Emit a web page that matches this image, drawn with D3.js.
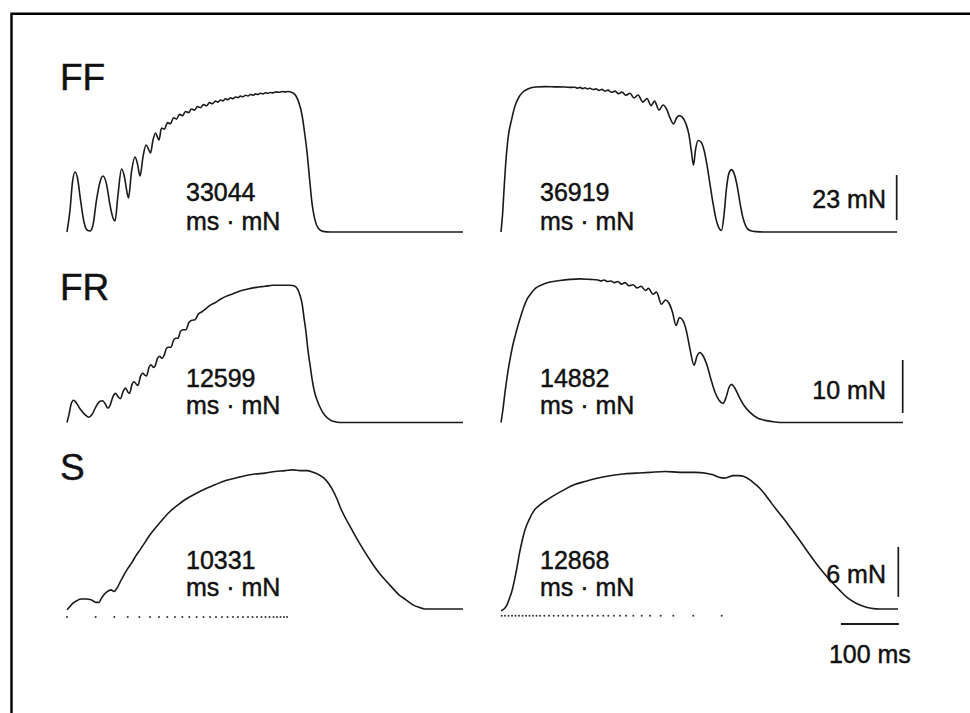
<!DOCTYPE html>
<html>
<head>
<meta charset="utf-8">
<script src="https://cdn.jsdelivr.net/npm/d3@7"></script>
<style>
  body { margin: 0; background: #fff; }
  svg { display: block; font-family: "Liberation Sans", Arial, Helvetica, sans-serif; }
  text { fill: #111; stroke: #111; stroke-width: 0.45; }
</style>
</head>
<body>
<svg width="970" height="713"></svg>
<script>
// force traces: [time ms, force mN]
// "increasing" = rising stimulus rate (left column), "decreasing" = falling rate (right column)
const ffIncreasing = [
  [0, 0], [5.2, 11.2], [9.5, 25.6], [13.8, 30.7], [18.1, 27.6], [23.3, 16.4], [29.3, 5.1], [34.5, 1.0],
  [39.7, 0.5], [44.8, 3.6], [50.9, 16.4], [56.9, 25.6], [62.1, 28.6], [68.1, 24.5], [74.1, 13.8],
  [79.3, 7.2], [82.8, 5.6], [87.9, 18.9], [94.0, 32.2], [99.1, 28.1], [103.4, 20.4], [106.0, 17.4],
  [111.2, 30.7], [117.2, 38.3], [121.6, 34.7], [125.9, 28.6], [131.0, 38.3], [136.2, 44.5],
  [140.5, 42.4], [144.0, 40.4], [148.3, 47.0], [152.6, 50.6], [156.0, 48.5], [158.6, 47.0],
  [162.9, 53.1], [168.1, 52.6], [173.3, 55.9], [178.4, 55.3], [183.6, 58.4], [188.8, 57.7],
  [194.0, 60.1], [199.1, 59.5], [204.3, 61.6], [209.5, 61.0], [214.7, 62.9], [219.8, 62.3],
  [225.0, 64.1], [230.2, 63.5], [235.3, 65.1], [240.5, 64.5], [245.7, 66.1], [250.9, 65.6],
  [256.0, 66.9], [260.3, 66.4], [264.7, 67.5], [269.0, 67.0], [273.3, 68.1], [277.6, 67.6],
  [281.9, 68.6], [286.2, 68.1], [290.5, 69.0], [294.8, 68.7], [299.1, 69.5], [303.4, 69.1],
  [307.8, 69.9], [312.1, 69.5], [316.4, 70.3], [320.7, 69.9], [325.0, 70.6], [329.3, 70.3],
  [333.6, 70.9], [337.9, 70.6], [342.2, 71.2], [346.6, 70.9], [350.9, 71.3], [355.2, 71.1],
  [360.3, 71.6], [365.5, 71.4], [370.7, 71.8], [375.9, 71.6], [381.0, 71.8], [387.9, 71.3],
  [394.8, 69.5], [400.0, 65.9], [405.2, 59.8], [409.5, 51.1], [413.8, 40.9], [418.1, 27.6],
  [422.4, 14.8], [427.6, 6.1], [433.6, 1.8], [441.4, 0.3], [453.4, 0], [682.8, 0]
];
const ffDecreasing = [
  [0, 0], [2.6, 8.7], [5.2, 21.5], [8.6, 36.8], [12.9, 49.6], [18.1, 57.2], [24.1, 64.4], [31.0, 69.0],
  [38.8, 71.8], [48.3, 73.4], [60.3, 74.1], [75.9, 74.3], [93.1, 74.2], [110.3, 74.1], [122.4, 73.9],
  [127.6, 74.0], [131.9, 73.5], [136.2, 73.9], [140.5, 73.3], [144.8, 73.7], [149.1, 73.1],
  [153.4, 73.5], [158.6, 72.8], [163.8, 73.2], [169.0, 72.4], [174.1, 72.9], [179.3, 72.0],
  [184.5, 72.5], [190.5, 71.4], [196.6, 72.0], [202.6, 70.7], [208.6, 71.5], [215.5, 69.9],
  [222.4, 70.9], [229.3, 68.5], [236.2, 70.0], [244.8, 66.4], [251.7, 68.2], [258.6, 64.6],
  [264.7, 66.9], [272.4, 62.3], [279.3, 64.9], [285.3, 62.9], [291.4, 58.3], [297.4, 55.2],
  [302.6, 58.3], [306.9, 59.5], [312.1, 58.8], [319.0, 55.2], [324.1, 49.6], [328.4, 40.9],
  [331.9, 34.2], [335.3, 41.9], [339.7, 46.8], [344.8, 46.0], [350.0, 41.9], [355.2, 34.2],
  [360.3, 24.5], [365.5, 14.8], [370.7, 6.6], [375.9, 2.0], [380.2, 0.8], [384.5, 8.7],
  [388.8, 22.5], [393.1, 30.1], [397.4, 31.9], [401.7, 30.1], [406.9, 24.0], [412.1, 14.8],
  [417.2, 7.2], [422.4, 2.8], [429.3, 0.8], [439.7, 0.2], [455.2, 0], [682.8, 0]
];
const frIncreasing = [
  [0, 0], [3.4, 1.5], [6.9, 3.4], [11.2, 4.2], [15.5, 3.8], [22.4, 2.6], [31.0, 1.5], [37.9, 1.0],
  [43.1, 1.5], [50.0, 3.0], [56.9, 4.0], [61.2, 4.1], [65.5, 3.6], [70.7, 2.7], [74.1, 3.2],
  [79.3, 4.9], [83.6, 5.5], [87.9, 4.9], [92.2, 4.5], [96.6, 5.8], [100.9, 6.5], [105.2, 5.7],
  [107.8, 5.5], [112.1, 7.2], [115.5, 7.7], [119.8, 7.2], [122.4, 7.0], [126.7, 8.7], [130.2, 9.3],
  [134.5, 8.9], [137.1, 8.8], [141.4, 10.4], [144.8, 10.9], [149.1, 10.4], [151.7, 10.6],
  [156.0, 12.1], [159.5, 12.5], [163.8, 12.1], [167.2, 12.6], [171.6, 14.0], [175.0, 14.2],
  [179.3, 14.2], [183.6, 15.5], [187.1, 15.9], [191.4, 15.9], [195.7, 17.2], [200.0, 17.5],
  [205.2, 17.5], [210.3, 18.9], [215.5, 19.3], [220.7, 19.4], [226.7, 20.5], [232.8, 20.9],
  [239.7, 21.5], [246.6, 22.1], [255.2, 22.6], [263.8, 23.2], [274.1, 23.8], [284.5, 24.2],
  [298.3, 24.8], [312.1, 25.2], [326.7, 25.5], [341.4, 25.7], [355.2, 25.9], [370.7, 25.9],
  [384.5, 25.9], [391.4, 25.8], [397.4, 25.2], [401.7, 24.0], [405.2, 22.5], [408.6, 19.8],
  [412.1, 17.0], [415.5, 13.6], [419.0, 10.9], [422.4, 8.3], [426.7, 5.8], [431.9, 4.0],
  [437.9, 2.5], [444.8, 1.3], [453.4, 0.5], [463.8, 0.1], [475.9, 0], [682.8, 0]
];
const frDecreasing = [
  [0, 0], [3.4, 2.5], [6.9, 5.7], [11.2, 9.1], [15.5, 11.9], [19.8, 14.3], [24.1, 16.2], [29.3, 18.3],
  [34.5, 20.2], [39.7, 21.9], [45.7, 23.4], [52.6, 24.5], [60.3, 25.4], [70.7, 26.0], [84.5, 26.5],
  [101.7, 26.8], [119.0, 27.0], [136.2, 27.1], [153.4, 27.0], [167.2, 26.9], [172.4, 26.7],
  [177.6, 26.9], [183.6, 26.6], [189.7, 26.7], [195.7, 26.4], [201.7, 26.6], [207.8, 26.1],
  [213.8, 26.4], [220.7, 25.8], [227.6, 26.0], [234.5, 25.4], [241.4, 25.7], [249.1, 24.9],
  [254.3, 25.3], [262.1, 24.2], [268.1, 24.6], [276.7, 22.3], [283.6, 23.1], [289.7, 22.5],
  [295.7, 20.8], [301.7, 18.3], [307.8, 19.8], [313.8, 19.2], [319.8, 17.2], [325.9, 13.8],
  [332.8, 10.8], [337.9, 12.5], [343.1, 13.2], [348.3, 12.6], [355.2, 10.8], [362.1, 8.1],
  [369.0, 5.7], [375.9, 4.2], [382.8, 3.6], [387.9, 4.7], [393.1, 6.6], [397.4, 7.2], [402.6, 6.6],
  [410.3, 4.9], [419.0, 3.2], [429.3, 1.9], [441.4, 0.9], [455.2, 0.4], [472.4, 0.1], [489.7, 0],
  [693.1, 0]
];
const sIncreasing = [
  [0, -0.1], [5.2, 0.3], [10.3, 0.7], [17.2, 1.0], [24.1, 1.2], [32.8, 1.2], [41.4, 1.1], [50.0, 0.8],
  [55.2, 0.8], [59.5, 1.3], [64.7, 1.8], [71.7, 2.2], [75.9, 2.3], [81.0, 2.1], [86.2, 2.5],
  [91.4, 3.2], [98.3, 4.1], [105.2, 4.9], [112.1, 5.6], [119.0, 6.4], [125.9, 7.1], [134.5, 8.0],
  [143.1, 8.9], [153.4, 9.8], [165.5, 10.8], [177.6, 11.7], [191.4, 12.5], [205.2, 13.2],
  [220.7, 13.8], [237.9, 14.4], [255.2, 14.9], [272.4, 15.4], [289.7, 15.7], [306.9, 16.0],
  [324.1, 16.2], [341.4, 16.3], [358.6, 16.5], [375.9, 16.6], [389.7, 16.7], [401.7, 16.6],
  [413.8, 16.6], [424.1, 16.4], [434.5, 16.1], [443.1, 15.7], [451.7, 15.0], [458.6, 14.2],
  [465.5, 13.2], [472.4, 12.0], [481.0, 10.8], [491.4, 9.5], [501.7, 8.2], [512.1, 7.0],
  [524.1, 5.7], [536.2, 4.5], [548.3, 3.5], [560.3, 2.6], [572.4, 1.7], [584.5, 1.1], [596.6, 0.5],
  [606.9, 0.2], [617.2, 0], [682.8, 0]
];
const sDecreasing = [
  [0, -0.2], [5.2, 0], [10.3, 0.5], [14.7, 1.3], [19.0, 2.2], [23.3, 3.5], [27.6, 5.0], [31.9, 6.7],
  [36.2, 8.1], [41.4, 9.5], [48.3, 10.7], [56.9, 11.8], [67.2, 12.5], [79.3, 13.1], [93.1, 13.7],
  [108.6, 14.3], [125.9, 14.9], [144.8, 15.3], [165.5, 15.7], [187.9, 16.0], [210.3, 16.2],
  [232.8, 16.3], [256.9, 16.4], [282.8, 16.5], [308.6, 16.4], [334.5, 16.4], [353.4, 16.3],
  [365.5, 16.1], [375.9, 15.8], [384.5, 15.7], [391.4, 15.8], [400.0, 16.0], [410.3, 16.0],
  [419.0, 15.9], [429.3, 15.5], [439.7, 14.9], [450.0, 14.2], [462.1, 13.1], [474.1, 12.0],
  [487.9, 10.8], [501.7, 9.5], [515.5, 8.2], [529.3, 6.8], [543.1, 5.5], [556.9, 4.3], [570.7, 3.2],
  [584.5, 2.2], [598.3, 1.3], [612.1, 0.7], [625.9, 0.3], [638.0, 0.1], [653.4, 0], [684.5, 0]
];

// stimulus times (ms), the dotted rows under the S traces
const stimIncreasing = [0, 49.5, 81.6, 104.7, 124.7, 143.1, 158.6, 172.9, 186.2, 198.8, 210.9, 223.6,
  235.3, 246.6, 256.9, 267.2, 276.7, 286.2, 294.8, 303.4, 312.1, 319.8, 327.6, 335.3, 342.2, 349.1,
  356.0, 362.1, 368.1, 374.1, 379.3];
const stimDecreasing = [1.2, 6.9, 12.9, 19.0, 25.0, 31.0, 37.1, 43.1, 49.1, 55.2, 61.2, 67.2, 74.7,
  82.8, 90.9, 98.8, 106.9, 115.0, 122.9, 132.2, 140.2, 149.5, 157.4, 166.7, 176.4, 185.0, 194.8,
  205.2, 215.5, 228.1, 242.6, 256.9, 275.3, 297.1, 331.6, 380.5];

const units = ["FF", "FR", "S"];
const areaIncreasing = ["33044", "12599", "10331"];
const areaDecreasing = ["36919", "14882", "12868"];
const forceBarMN = [23, 10, 6];
const timeBarMs = 100;

// layout per row: baseline, pixels of the force bar, where things sit
const rows = [
  { trace: [ffIncreasing, ffDecreasing], base: 232, barPx: 45, barFrom: 6.1, barAt: 682.2, labelY: 90, numY: 201, unitY: 230 },
  { trace: [frIncreasing, frDecreasing], base: 422.5, barPx: 53, barFrom: 1.8, barAt: 692.6, labelY: 300, numY: 387, unitY: 414 },
  { trace: [sIncreasing, sDecreasing], base: 609, barPx: 50, barFrom: 1.45, barAt: 685.0, labelY: 480, numY: 569, unitY: 596 }
];

const svg = d3.select("svg");
const ink = "#1a1a1a";

// frame: only left and top edges are inside the scan
svg.append("path")
  .attr("d", "M11.5,713 V13.7 H970")
  .attr("fill", "none").attr("stroke", "#000").attr("stroke-width", 2.4);

const xInc = d3.scaleLinear().domain([0, 100]).range([67, 125]);
const xDec = d3.scaleLinear().domain([0, 100]).range([501, 559]);

rows.forEach((r, i) => {
  const y = d3.scaleLinear().domain([0, forceBarMN[i]]).range([r.base, r.base - r.barPx]);
  [xInc, xDec].forEach((x, j) => {
    const line = d3.line()
      .x(d => x(d[0]))
      .y(d => y(d[1]))
      .curve(d3.curveMonotoneX);
    svg.append("path")
      .datum(r.trace[j])
      .attr("d", line)
      .attr("fill", "none")
      .attr("stroke", ink)
      .attr("stroke-width", 1.6)
      .attr("stroke-linejoin", "round");
  });

  svg.append("text")
    .attr("x", 60).attr("y", r.labelY)
    .attr("font-size", 37)
    .attr("stroke-width", 0.7)
    .text(units[i]);

  [[areaIncreasing[i], 186], [areaDecreasing[i], 540]].forEach(([v, tx]) => {
    svg.append("text").attr("x", tx).attr("y", r.numY).attr("font-size", 25).text(v);
    svg.append("text").attr("x", tx).attr("y", r.unitY).attr("font-size", 25).text("ms \u00b7 mN");
  });

  // force calibration bar
  svg.append("line")
    .attr("x1", xDec(r.barAt)).attr("x2", xDec(r.barAt))
    .attr("y1", y(r.barFrom)).attr("y2", y(r.barFrom + forceBarMN[i]))
    .attr("stroke", ink).attr("stroke-width", 1.7);
  svg.append("text")
    .attr("x", 886).attr("y", y(r.barFrom + forceBarMN[i] * 0.27))
    .attr("text-anchor", "end")
    .attr("font-size", 25)
    .text(`${forceBarMN[i]} mN`);

  if (i === 2) {
    svg.selectAll("circle.stimInc")
      .data(stimIncreasing)
      .enter().append("circle")
      .attr("class", "stimInc")
      .attr("cx", d => xInc(d)).attr("cy", y(-0.95)).attr("r", 1)
      .attr("fill", "#333");
    svg.selectAll("circle.stimDec")
      .data(stimDecreasing)
      .enter().append("circle")
      .attr("class", "stimDec")
      .attr("cx", d => xDec(d)).attr("cy", y(-0.8)).attr("r", 1)
      .attr("fill", "#333");

    // time calibration bar
    const t0 = 686 - timeBarMs;
    svg.append("line")
      .attr("x1", xDec(t0)).attr("x2", xDec(t0 + timeBarMs))
      .attr("y1", y(-1.8)).attr("y2", y(-1.8))
      .attr("stroke", ink).attr("stroke-width", 2.2);
    svg.append("text")
      .attr("x", xDec(t0 + timeBarMs / 2)).attr("y", 663)
      .attr("text-anchor", "middle")
      .attr("font-size", 25)
      .text(`${timeBarMs} ms`);
  }
});
</script>
</body>
</html>
